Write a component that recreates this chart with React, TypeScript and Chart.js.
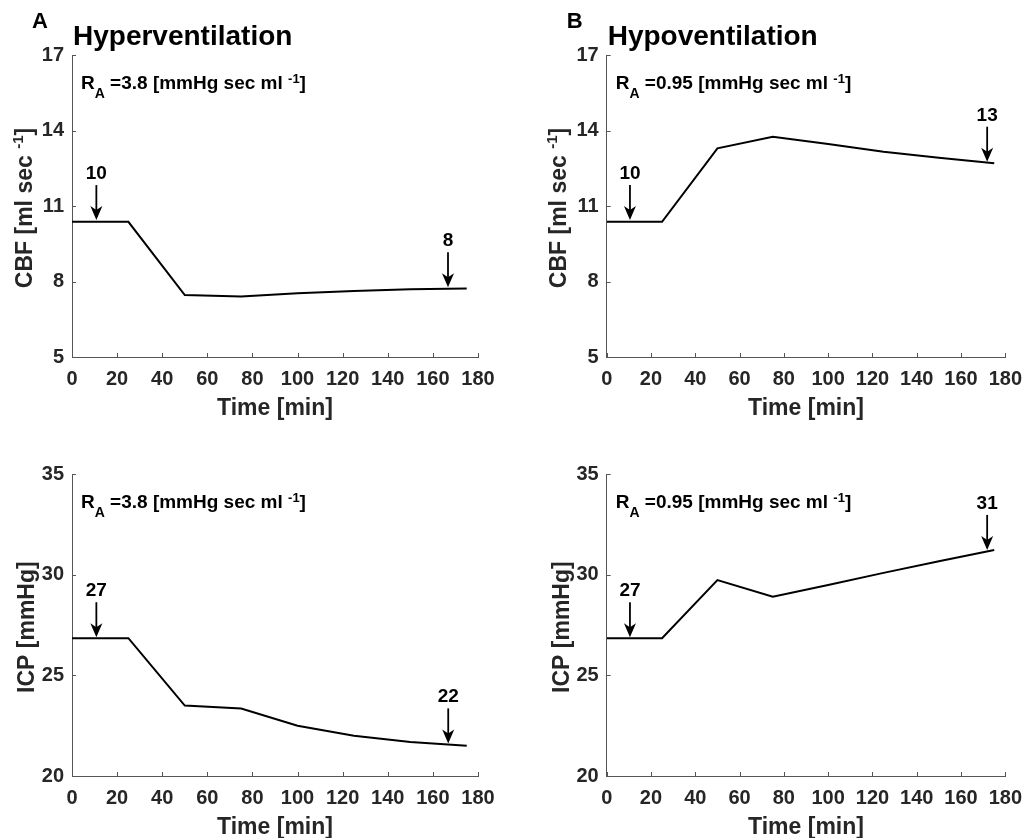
import React, { useEffect, useRef } from "react";
import { Chart, registerables } from "chart.js";

Chart.register(...registerables);

// ---------- data ----------
const timeMin = [0, 25, 50, 75, 100, 125, 150, 175];
const cbfHyper = [10.37, 10.37, 7.46, 7.4, 7.53, 7.62, 7.69, 7.72];
const cbfHypo = [10.37, 10.37, 13.29, 13.75, 13.46, 13.16, 12.92, 12.7];
const icpHyper = [26.85, 26.85, 23.5, 23.36, 22.5, 22.0, 21.69, 21.5];
const icpHypo = [26.85, 26.85, 29.74, 28.91, 29.5, 30.1, 30.68, 31.24];

const xTickRange = [0, 180];
const xTickStep = 20;
const cbfRange = [5, 17];
const cbfStep = 3;
const icpRange = [20, 35];
const icpStep = 5;

const arrowsCbfHyper = [
  { t: 10.8, v: 10.44, label: "10" },
  { t: 166.7, v: 7.77, label: "8" },
];
const arrowsCbfHypo = [
  { t: 10.5, v: 10.44, label: "10" },
  { t: 171.8, v: 12.76, label: "13" },
];
const arrowsIcpHyper = [
  { t: 10.8, v: 26.9, label: "27" },
  { t: 166.8, v: 21.62, label: "22" },
];
const arrowsIcpHypo = [
  { t: 10.5, v: 26.9, label: "27" },
  { t: 171.8, v: 31.24, label: "31" },
];

const raHyper = "=3.8 [mmHg sec ml ";
const raHypo = "=0.95 [mmHg sec ml ";

// ---------- style ----------
const FONT = '"Liberation Sans", Arial, Helvetica, sans-serif';
const AXIS = "#555555";
const TICKTXT = "#262626";

type Arrow = { t: number; v: number; label: string };
type Cfg = {
  left: number;
  top: number;
  w: number;
  h: number;
  area: { l: number; t: number; r: number; b: number };
  y: number[];
  yRange: number[];
  yStep: number;
  letter?: string;
  title?: string;
  ra: string;
  yTitle: string;
  ySup?: string;
  yTitleOffset: number;
  arrows: Arrow[];
};

function f(size: number) {
  return `bold ${size}px ${FONT}`;
}

function overlay(c: Cfg) {
  return {
    id: "overlay",
    afterDraw(chart: any) {
      const { ctx, chartArea: a, scales } = chart;
      const xs = scales.x;
      const ys = scales.y;
      ctx.save();
      // inward ticks
      ctx.strokeStyle = AXIS;
      ctx.lineWidth = 1;
      xs.ticks.forEach((tk: any) => {
        const px = Math.round(xs.getPixelForValue(tk.value)) + 0.5;
        ctx.beginPath();
        ctx.moveTo(px, a.bottom);
        ctx.lineTo(px, a.bottom - 4);
        ctx.stroke();
      });
      ys.ticks.forEach((tk: any) => {
        const py = Math.round(ys.getPixelForValue(tk.value)) + 0.5;
        ctx.beginPath();
        ctx.moveTo(a.left, py);
        ctx.lineTo(a.left + 4, py);
        ctx.stroke();
      });

      ctx.fillStyle = "#000";
      ctx.textAlign = "left";
      ctx.textBaseline = "alphabetic";
      // panel letter and title
      if (c.letter) {
        ctx.font = f(22);
        ctx.fillText(c.letter, a.left - 40, 28);
      }
      if (c.title) {
        ctx.font = f(28);
        ctx.fillText(c.title, a.left + 1, 45);
      }
      // R_A text
      let x0 = a.left + 9;
      const base = a.top + 33.5;
      const parts = [
        { s: "R", size: 19, dy: 0 },
        { s: "A", size: 14, dy: 9.5 },
        { s: " " + c.ra, size: 19, dy: 0 },
        { s: "-1", size: 13, dy: -6 },
        { s: "]", size: 19, dy: 0 },
      ];
      parts.forEach((p) => {
        ctx.font = f(p.size);
        ctx.fillText(p.s, x0, base + p.dy);
        x0 += ctx.measureText(p.s).width;
      });

      // x title
      ctx.fillStyle = TICKTXT;
      ctx.font = f(23);
      ctx.textAlign = "center";
      ctx.fillText("Time [min]", (a.left + a.right) / 2, a.bottom + 58);

      // y title (rotated)
      ctx.save();
      ctx.translate(a.left - c.yTitleOffset + 8, (a.top + a.bottom) / 2 + 2);
      ctx.rotate(-Math.PI / 2);
      ctx.textAlign = "left";
      const yparts = c.ySup
        ? [
            { s: c.yTitle, size: 23, dy: 0 },
            { s: c.ySup, size: 15, dy: -9 },
            { s: "]", size: 23, dy: 0 },
          ]
        : [{ s: c.yTitle, size: 23, dy: 0 }];
      let tw = 0;
      yparts.forEach((p) => {
        ctx.font = f(p.size);
        tw += ctx.measureText(p.s).width;
      });
      let yx = -tw / 2;
      yparts.forEach((p) => {
        ctx.font = f(p.size);
        ctx.fillText(p.s, yx, p.dy);
        yx += ctx.measureText(p.s).width;
      });
      ctx.restore();

      // arrows
      ctx.fillStyle = "#000";
      ctx.strokeStyle = "#000";
      c.arrows.forEach((ar) => {
        const px = xs.getPixelForValue(ar.t);
        const tip = ys.getPixelForValue(ar.v);
        const top = tip - 35;
        ctx.lineWidth = 1.8;
        ctx.beginPath();
        ctx.moveTo(px, top);
        ctx.lineTo(px, tip - 8);
        ctx.stroke();
        ctx.beginPath();
        ctx.moveTo(px, tip);
        ctx.lineTo(px - 6, tip - 14);
        ctx.lineTo(px, tip - 10);
        ctx.lineTo(px + 6, tip - 14);
        ctx.closePath();
        ctx.fill();
        ctx.font = f(19);
        ctx.textAlign = "center";
        ctx.fillText(ar.label, px, top - 6);
      });
      ctx.restore();
    },
  };
}

function Panel({ cfg }: { cfg: Cfg }) {
  const ref = useRef<HTMLCanvasElement>(null);
  useEffect(() => {
    const c = cfg;
    const tickFont = { family: FONT, size: 20, weight: "bold" as const };
    const chart = new Chart(ref.current!, {
      type: "line",
      data: {
        datasets: [
          {
            data: timeMin.map((t, i) => ({ x: t, y: c.y[i] })),
            borderColor: "#000",
            borderWidth: 2,
            pointRadius: 0,
            tension: 0,
            fill: false,
          },
        ],
      },
      options: {
        animation: false,
        responsive: false,
        maintainAspectRatio: false,
        devicePixelRatio: 1,
        events: [],
        layout: {
          padding: { left: 0, top: c.area.t, right: c.w - c.area.r, bottom: 0 },
        },
        plugins: {
          legend: { display: false },
          tooltip: { enabled: false },
          title: { display: false },
        },
        scales: {
          x: {
            type: "linear",
            min: xTickRange[0],
            max: xTickRange[1],
            ticks: {
              stepSize: xTickStep,
              font: tickFont,
              color: TICKTXT,
              padding: 10,
              maxRotation: 0,
              autoSkip: false,
            },
            grid: { display: false, drawTicks: false },
            border: { display: true, color: AXIS, width: 1 },
            afterFit: (s: any) => {
              s.height = c.h - c.area.b;
            },
          },
          y: {
            type: "linear",
            min: c.yRange[0],
            max: c.yRange[1],
            ticks: {
              stepSize: c.yStep,
              font: tickFont,
              color: TICKTXT,
              padding: 8,
              autoSkip: false,
            },
            grid: { display: false, drawTicks: false },
            border: { display: true, color: AXIS, width: 1 },
            afterFit: (s: any) => {
              s.width = c.area.l;
            },
          },
        },
      } as any,
      plugins: [overlay(c) as any],
    });
    return () => chart.destroy();
  }, [cfg]);
  return (
    <canvas
      ref={ref}
      width={cfg.w}
      height={cfg.h}
      style={{
        position: "absolute",
        left: cfg.left,
        top: cfg.top,
        width: cfg.w,
        height: cfg.h,
      }}
    />
  );
}

const panels: Cfg[] = [
  {
    left: 0,
    top: 0,
    w: 516,
    h: 420,
    area: { l: 72, t: 55, r: 478, b: 357 },
    y: cbfHyper,
    yRange: cbfRange,
    yStep: cbfStep,
    letter: "A",
    title: "Hyperventilation",
    ra: raHyper,
    yTitle: "CBF [ml sec ",
    ySup: "-1",
    yTitleOffset: 48,
    arrows: arrowsCbfHyper,
  },
  {
    left: 516,
    top: 0,
    w: 516,
    h: 420,
    area: { l: 90.7, t: 55, r: 495.7, b: 357 },
    y: cbfHypo,
    yRange: cbfRange,
    yStep: cbfStep,
    letter: "B",
    title: "Hypoventilation",
    ra: raHypo,
    yTitle: "CBF [ml sec ",
    ySup: "-1",
    yTitleOffset: 48.5,
    arrows: arrowsCbfHypo,
  },
  {
    left: 0,
    top: 420,
    w: 516,
    h: 418,
    area: { l: 72, t: 54.3, r: 478, b: 356 },
    y: icpHyper,
    yRange: icpRange,
    yStep: icpStep,
    ra: raHyper,
    yTitle: "ICP [mmHg]",
    yTitleOffset: 46,
    arrows: arrowsIcpHyper,
  },
  {
    left: 516,
    top: 420,
    w: 516,
    h: 418,
    area: { l: 90.7, t: 54.3, r: 495.7, b: 356 },
    y: icpHypo,
    yRange: icpRange,
    yStep: icpStep,
    ra: raHypo,
    yTitle: "ICP [mmHg]",
    yTitleOffset: 46,
    arrows: arrowsIcpHypo,
  },
];

export default function App() {
  return (
    <div
      style={{
        position: "absolute",
        left: 0,
        top: 0,
        width: 1032,
        height: 838,
        background: "#fff",
      }}
    >
      {panels.map((p, i) => (
        <Panel key={i} cfg={p} />
      ))}
    </div>
  );
}
